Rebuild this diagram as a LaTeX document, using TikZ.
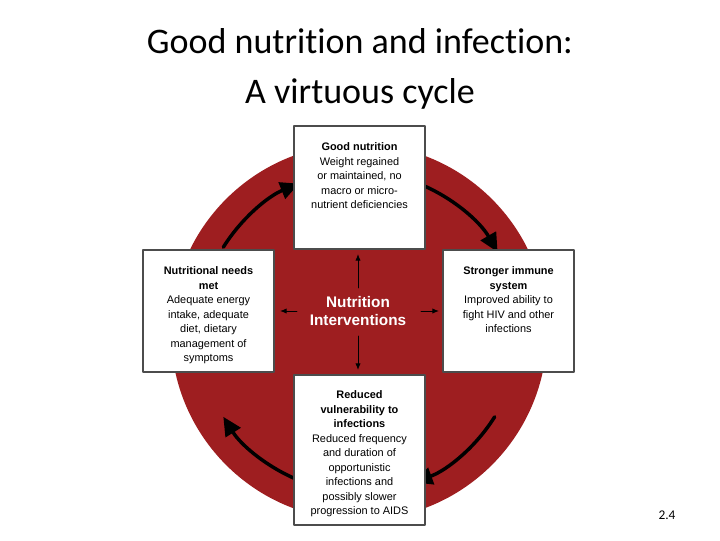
\documentclass[tikz,border=0pt]{standalone}
\usepackage{fontspec}
\setmainfont{Liberation Sans}
\newfontfamily\titlefont[Ligatures=NoCommon]{Carlito}
\usetikzlibrary{arrows.meta}
\definecolor{cyclered}{RGB}{158,30,32}

\begin{document}
\begin{tikzpicture}[x=0.75pt,y=-0.75pt,line cap=round,line join=round,
  box/.style={draw=black!70,line width=0.8pt,fill=white,inner sep=0pt},
  boxtext/.style={align=center,font=\fontsize{8.2}{10.9}\selectfont},
  cyc/.style={line width=2.6pt,-{Triangle[length=14pt,width=13pt]}},
  thin/.style={line width=0.7pt,-{Latex[length=5pt,width=4pt]}}]
\useasboundingbox (0,0) rectangle (720,540);
\node[font=\titlefont\fontsize{27}{38}\selectfont,align=center] (title) at (360,69) {Good nutrition and infection:\\A virtuous cycle};
\fill[cyclered] (359,332) circle (188);
% cycle arrows
\draw[cyc] (359,332) ++(-148:160) arc (-148:-112:160);
\draw[cyc] (359,332) ++(-68:160) arc (-68:-30:160);
\draw[cyc] (359,332) ++(32:160) arc (32:70:160);
\draw[cyc] (359,332) ++(112:160) arc (112:148:160);
% boxes
\draw[box] (294,126) rectangle (425,249);
\draw[box] (143,250) rectangle (274,372);
\draw[box] (443,250) rectangle (574,372);
\draw[box] (294,375) rectangle (425,525);
\node[boxtext,anchor=north] (good) at (359.5,138) {\textbf{Good nutrition}\\Weight regained\\or maintained, no\\macro or micro-\\nutrient deficiencies};
\node[boxtext,anchor=north] (needs) at (208.5,262) {\textbf{Nutritional needs}\\\textbf{met}\\Adequate energy\\intake, adequate\\diet, dietary\\management of\\symptoms};
\node[boxtext,anchor=north] (immune) at (508.5,262) {\textbf{Stronger immune}\\\textbf{system}\\Improved ability to\\fight HIV and other\\infections};
\node[boxtext,anchor=north] (reduced) at (359.5,386) {\textbf{Reduced}\\\textbf{vulnerability to}\\\textbf{infections}\\Reduced frequency\\and duration of\\opportunistic\\infections and\\possibly slower\\progression to AIDS};
\node[text=white,font=\fontsize{11.5}{14}\selectfont\bfseries,align=center] (interv) at (358,311) {Nutrition\\Interventions};
% intervention arrows
\coordinate (n) at (358,254); \coordinate (s) at (358,370);
\coordinate (w) at (280,311); \coordinate (e) at (439,311);
\draw[thin] (358,288) -- (n);
\draw[thin] (358,336) -- (s);
\draw[thin] (297,311) -- (w);
\draw[thin] (421,311) -- (e);
\node[font=\titlefont\fontsize{10}{12}\selectfont] (num) at (667,515) {2.4};
\end{tikzpicture}
\end{document}
